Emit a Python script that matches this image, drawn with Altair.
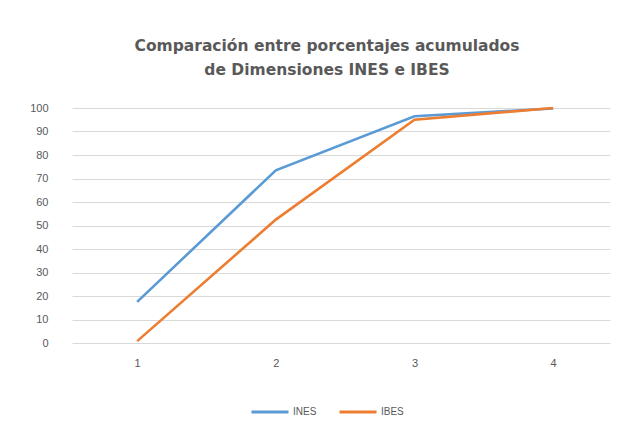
import altair as alt
import pandas as pd

categories = [1, 2, 3, 4]
ines = [17.5, 73.5, 96.5, 99.8]
ibes = [0.8, 52.5, 95.0, 100.0]
series_names = ["INES", "IBES"]
y_ticks = [0, 10, 20, 30, 40, 50, 60, 70, 80, 90, 100]

rows = []
for name, vals in zip(series_names, [ines, ibes]):
    for c, v in zip(categories, vals):
        rows.append({"x": c, "y": v, "serie": name})
df = pd.DataFrame(rows)

chart = alt.Chart(df).mark_line(strokeWidth=2.6).encode(
    x=alt.X("x:Q", scale=alt.Scale(domain=[0.53, 4.41], nice=False, zero=False),
            axis=alt.Axis(values=categories, grid=False, domain=False, ticks=False,
                          labelPadding=14, labelFontSize=11, labelColor="#595959",
                          labelFont="Liberation Sans", title=None, format="d")),
    y=alt.Y("y:Q", scale=alt.Scale(domain=[0, 100], nice=False),
            axis=alt.Axis(values=y_ticks, grid=True, gridColor="#D9D9D9", domain=False,
                          ticks=False, labelPadding=24, labelFontSize=11, labelColor="#595959",
                          labelFont="Liberation Sans", title=None)),
    color=alt.Color("serie:N", scale=alt.Scale(domain=series_names, range=["#5B9BD5", "#ED7D31"]),
                    legend=alt.Legend(orient="none", legendX=178, legendY=284, direction="horizontal",
                                      title=None, symbolType="stroke", symbolStrokeWidth=3,
                                      symbolSize=1369, labelFontSize=10, labelColor="#595959",
                                      labelFont="Liberation Sans", labelOffset=3, columnPadding=16)),
).properties(
    width=538,
    height=235,
    title=alt.TitleParams(text=["Comparación entre porcentajes acumulados",
                                "de Dimensiones INES e IBES"],
                          anchor="middle", fontSize=15.5, fontWeight="bold", color="#595959",
                          font="DejaVu Sans", offset=24, dx=-14, lineHeight=24),
    autosize=alt.AutoSizeParams(type="none"),
    padding={"left": 64, "top": 100, "right": 10, "bottom": 75},
).configure_view(stroke=None)

chart.save("out.html", embed_options={"renderer": "svg", "actions": False})
